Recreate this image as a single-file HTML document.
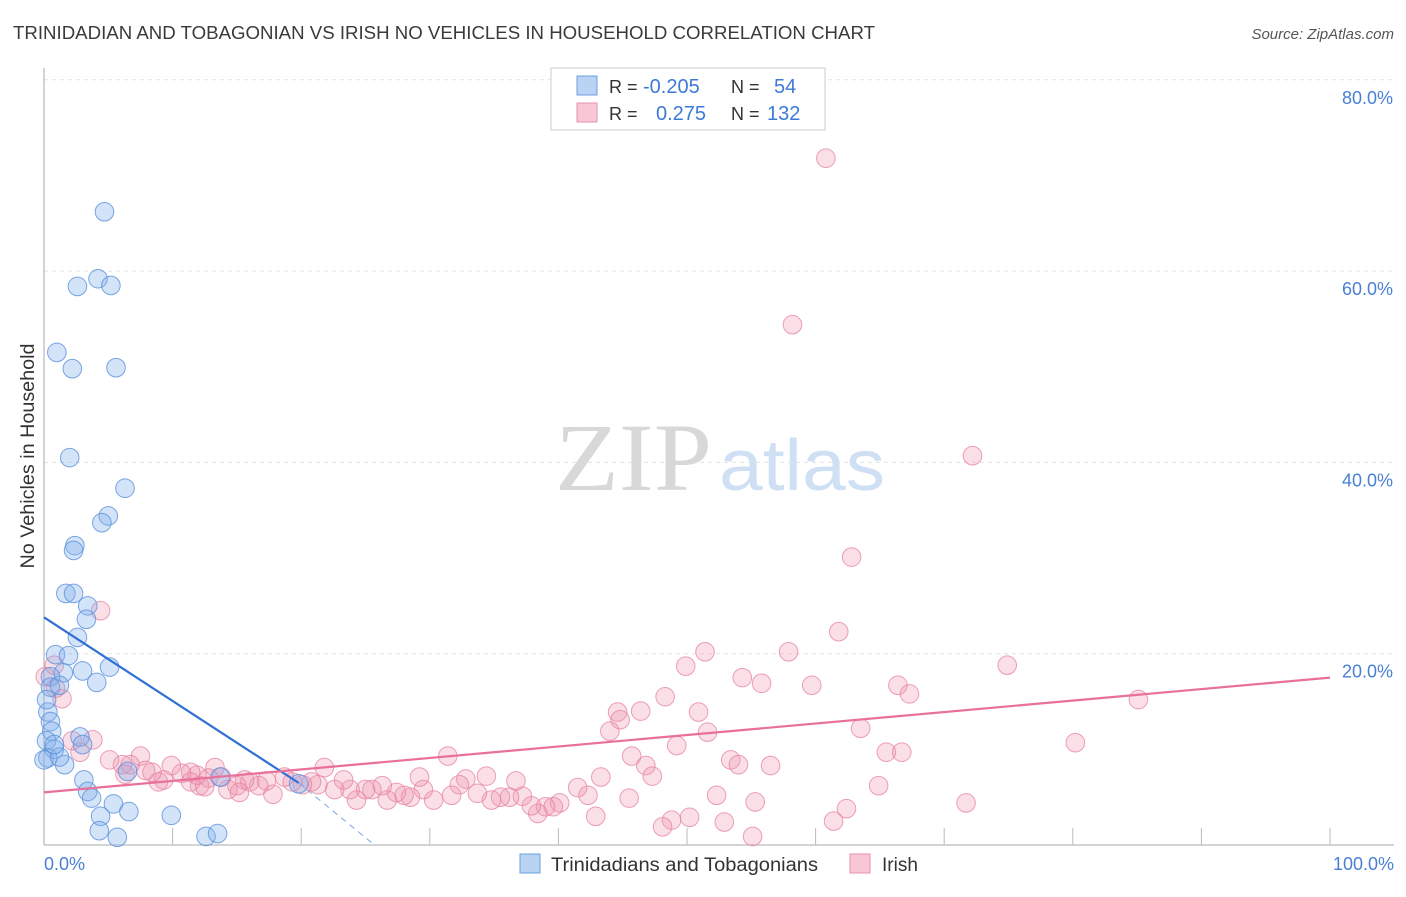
<!DOCTYPE html>
<html><head><meta charset="utf-8"><style>
body{margin:0;background:#fff;font-family:"Liberation Sans",sans-serif;}
svg text{font-family:"Liberation Sans",sans-serif;}
</style></head><body>
<svg id="chart" width="1406" height="892" xmlns="http://www.w3.org/2000/svg">
<text x="13" y="39" font-size="18" fill="#3a3a3a" textLength="862" lengthAdjust="spacingAndGlyphs">TRINIDADIAN AND TOBAGONIAN VS IRISH NO VEHICLES IN HOUSEHOLD CORRELATION CHART</text>
<text x="1394" y="39" font-size="15" fill="#555" font-style="italic" text-anchor="end">Source: ZipAtlas.com</text>
<g id="grid"></g>
<g>
<text x="555" y="490" font-size="96" fill="#d8d8d8" style="font-family:'Liberation Serif',serif" textLength="157" lengthAdjust="spacingAndGlyphs">ZIP</text>
<text x="719" y="490" font-size="72" fill="#cfe0f4" textLength="166" lengthAdjust="spacingAndGlyphs">atlas</text>
</g>
<line x1="44" y1="68" x2="44" y2="845" stroke="#aaa" stroke-width="1"/>
<line x1="44" y1="845" x2="1394" y2="845" stroke="#aaa" stroke-width="1"/>
<g id="ticks"></g>
<g id="ylabels"></g>
<text x="44" y="870" font-size="18" fill="#4a7fd6">0.0%</text>
<text x="1394" y="870" font-size="18" fill="#4a7fd6" text-anchor="end">100.0%</text>
<text transform="translate(34,456) rotate(-90)" font-size="19" fill="#333" text-anchor="middle" textLength="225" lengthAdjust="spacingAndGlyphs">No Vehicles in Household</text>
<g id="pink"></g>
<g id="blue"></g>
<g id="lines"></g>
<g>
<rect x="551" y="68" width="274" height="62" fill="#fff" stroke="#ccc"/>
<rect x="577" y="76" width="20" height="19" fill="#b9d3f3" stroke="#6a9fe0"/>
<rect x="577" y="103" width="20" height="19" fill="#f9c6d5" stroke="#e892ad"/>
<text x="609" y="93" font-size="18" fill="#333">R = </text><text x="643" y="93" font-size="20" fill="#3d7ad6">-0.205</text>
<text x="731" y="93" font-size="18" fill="#333">N = </text><text x="774" y="93" font-size="20" fill="#3d7ad6">54</text>
<text x="609" y="120" font-size="18" fill="#333">R = </text><text x="656" y="120" font-size="20" fill="#3d7ad6">0.275</text>
<text x="731" y="120" font-size="18" fill="#333">N = </text><text x="767" y="120" font-size="20" fill="#3d7ad6">132</text>
</g>
<g>
<rect x="520" y="854" width="20" height="19" fill="#b9d3f3" stroke="#6a9fe0"/>
<text x="551" y="871" font-size="19" fill="#333" textLength="267" lengthAdjust="spacingAndGlyphs">Trinidadians and Tobagonians</text>
<rect x="850" y="854" width="20" height="19" fill="#f9c6d5" stroke="#e892ad"/>
<text x="882" y="871" font-size="19" fill="#333">Irish</text>
</g>
</svg>
<script>
const yTicks=[20,40,60,80];
const yTickLabels=["20.0%","40.0%","60.0%","80.0%"];
const xTicks=[10,20,30,40,50,60,70,80,90,100];
const blueX=[4.7,4.2,2.6,5.2,1.0,2.2,5.6,2.0,6.3,5.0,4.5,2.4,2.3,1.7,2.3,3.4,3.3,2.6,0.9,1.9,1.5,3.0,5.1,4.1,0.5,0.5,1.2,0.3,0.5,0.6,0.2,0.8,0.3,0.0,1.6,1.2,2.8,3.0,6.5,3.1,3.4,3.7,5.4,4.4,6.6,9.9,4.3,5.7,12.6,13.5,13.7,19.8,0.2,0.8];
const blueY=[66.2,59.2,58.4,58.5,51.5,49.8,49.9,40.5,37.3,34.4,33.7,31.3,30.8,26.3,26.3,25.0,23.6,21.7,19.9,19.8,18.0,18.2,18.6,17.0,17.6,16.5,16.7,13.9,12.9,11.9,10.9,10.0,9.1,8.9,8.4,9.2,11.3,10.5,7.7,6.8,5.6,4.9,4.3,3.0,3.5,3.1,1.5,0.8,0.9,1.2,7.1,6.4,15.2,10.5];
const pinkX=[60.8,58.2,72.2,62.8,61.8,74.9,85.1,80.2,66.4,67.3,63.5,65.5,66.7,64.9,71.7,62.4,61.4,57.9,59.7,55.8,54.3,51.4,49.9,48.3,46.4,50.9,51.6,49.2,44.6,44.8,44.0,45.7,46.8,47.3,53.4,54.0,56.5,52.3,55.3,52.9,55.1,50.2,48.8,48.1,45.5,43.3,42.9,42.3,41.5,40.1,39.6,39.0,38.4,37.9,37.2,36.7,36.2,35.5,34.8,34.4,33.7,32.8,32.3,31.4,31.7,30.3,29.5,29.2,28.5,28.0,27.4,26.7,26.3,25.5,25.0,24.3,23.8,23.3,22.6,21.8,21.3,20.8,20.1,19.3,18.7,17.8,17.3,16.7,16.0,15.6,15.0,14.3,13.8,13.3,12.8,12.1,11.9,11.4,10.7,9.9,9.3,8.9,8.4,7.5,7.9,6.7,6.1,5.1,3.8,2.8,2.2,4.4,1.4,0.9,0.8,0.1,6.3,11.4,12.5,15.2];
const pinkY=[71.8,54.4,40.7,30.1,22.3,18.8,15.2,10.7,16.7,15.8,12.2,9.7,9.7,6.2,4.4,3.8,2.5,20.2,16.7,16.9,17.5,20.2,18.7,15.5,14.0,13.9,11.8,10.4,13.9,13.1,11.9,9.3,8.3,7.2,8.9,8.4,8.3,5.2,4.5,2.4,0.9,2.9,2.6,1.9,4.9,7.1,3.0,5.2,6.0,4.4,4.0,4.0,3.3,4.1,5.1,6.7,5.0,5.0,4.7,7.2,5.4,6.9,6.3,9.3,5.2,4.7,5.8,7.1,5.0,5.2,5.5,4.7,6.2,5.8,5.8,4.7,5.8,6.8,5.8,8.1,6.3,6.6,6.3,6.6,7.1,5.3,6.7,6.2,6.6,6.8,6.2,5.8,7.1,8.1,7.0,6.2,7.3,7.6,7.5,8.3,6.8,6.6,7.6,9.3,7.8,8.4,8.4,8.9,11.0,9.7,10.9,24.5,15.3,16.4,18.8,17.6,7.4,6.6,6.1,5.5];
const blueTrend=[23.8,-0.874];
const pinkTrend=[5.5,0.12];
const NS="http://www.w3.org/2000/svg";
const X=v=>44+v*12.86;
const Y=v=>845-v*9.565;
function mk(tag,attrs,parent){const e=document.createElementNS(NS,tag);for(const k in attrs)e.setAttribute(k,attrs[k]);parent.appendChild(e);return e;}
const grid=document.getElementById('grid'),yl=document.getElementById('ylabels'),tk=document.getElementById('ticks');
yTicks.forEach((t,i)=>{
 const l=mk('line',{x1:44,x2:1394,y1:Y(t),y2:Y(t),stroke:'#e2e2e2','stroke-dasharray':'4,4'},grid);
 
 
 const tx=mk('text',{x:1393,y:Y(t)+24,'font-size':18,fill:'#4a7fd6','text-anchor':'end'},yl);
 tx.textContent=yTickLabels[i];
 
 
});
xTicks.forEach(t=>{
 const l=mk('line',{x1:X(t),x2:X(t),y1:828,y2:845,stroke:'#bbb'},tk);
 
 
});
function pts(xs,ys,g,fill,stroke,name){
 xs.forEach((x,i)=>{
  const c=mk('circle',{cx:X(x),cy:Y(ys[i]),r:9.3,fill:fill,stroke:stroke,'stroke-width':1},g);
  
  
 });
}
pts(pinkX,pinkY,document.getElementById('pink'),'rgba(240,150,175,0.3)','rgba(230,130,160,0.75)','irish-point');
pts(blueX,blueY,document.getElementById('blue'),'rgba(130,175,235,0.35)','rgba(90,145,220,0.8)','trinidadian-point');
const lg=document.getElementById('lines');
const xEndSolid=19.8, xZero=25.7;
const b1=mk('line',{x1:X(0),y1:Y(blueTrend[0]),x2:X(xEndSolid),y2:Y(blueTrend[0]+blueTrend[1]*xEndSolid),stroke:'#2f6fd6','stroke-width':2.2},lg);


const b2=mk('line',{x1:X(xEndSolid),y1:Y(blueTrend[0]+blueTrend[1]*xEndSolid),x2:X(xZero),y2:Y(0),stroke:'#7ea6e0','stroke-width':1,'stroke-dasharray':'6,5'},lg);


const p1=mk('line',{x1:X(0),y1:Y(pinkTrend[0]),x2:X(100),y2:Y(pinkTrend[0]+pinkTrend[1]*100),stroke:'#e8709a','stroke-width':2.2},lg);


</script>
</body></html>
